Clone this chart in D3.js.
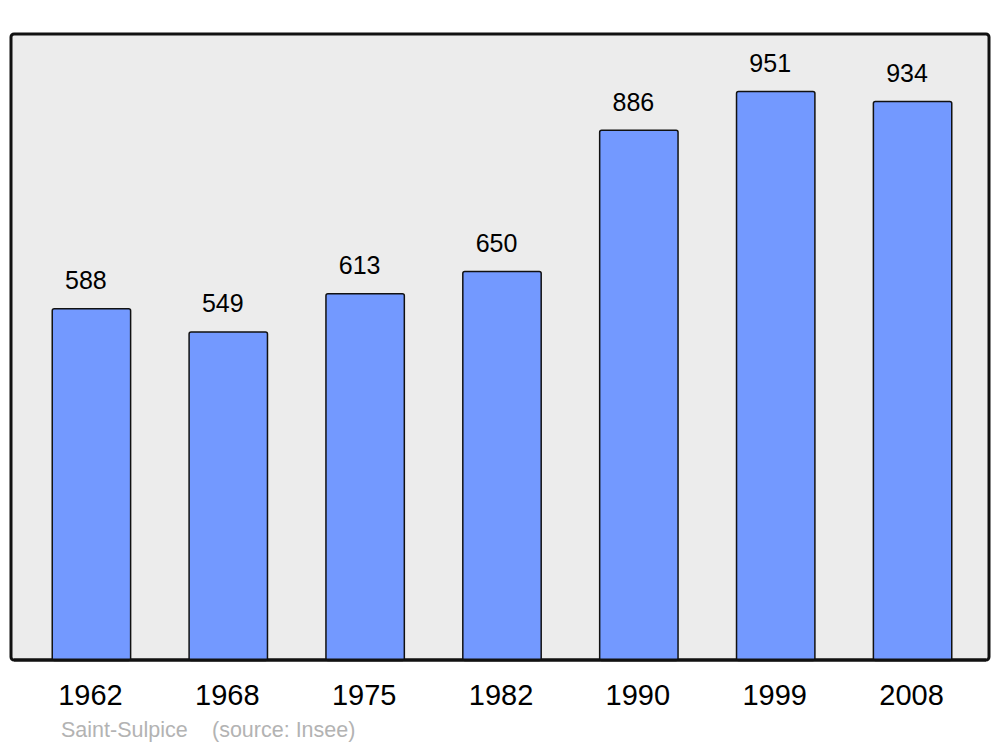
<!DOCTYPE html>
<html><head><meta charset="utf-8">
<script src="https://cdn.jsdelivr.net/npm/d3@7"></script>
<style>html,body{margin:0;padding:0;background:#fff;}</style>
</head><body>
<script>
const years = ["1962","1968","1975","1982","1990","1999","2008"];
const population = [588,549,613,650,886,951,934];
const footerLabels = ["Saint-Sulpice", "(source: Insee)"];

const W = 1000, H = 747;
const svg = d3.select("body").append("svg").attr("width", W).attr("height", H);

const frame = {x0: 11, y0: 34, x1: 989, y1: 660};
const x = d3.scaleBand().domain(years).range([23, 981]).paddingInner(0.42).paddingOuter(0.21);
const y = d3.scaleLinear().domain([0, d3.max(population) * 1.1]).range([frame.y1, frame.y0]);

svg.append("rect").attr("x", frame.x0).attr("y", frame.y0)
  .attr("width", frame.x1 - frame.x0).attr("height", frame.y1 - frame.y0)
  .attr("rx", 3).attr("fill", "#ececec").attr("stroke", "#111").attr("stroke-width", 3);

const data = years.map((yr, i) => ({yr, v: population[i]}));

svg.selectAll("rect.bar").data(data).enter().append("rect").attr("class", "bar")
  .attr("x", d => x(d.yr) + 0.5).attr("y", d => y(d.v) + 0.5)
  .attr("width", x.bandwidth() - 1).attr("height", d => y(0) - y(d.v))
  .attr("rx", 2).attr("fill", "#7399ff").attr("stroke", "#111").attr("stroke-width", 1.5);

// redraw bottom frame line on top of bars
svg.append("line").attr("x1", frame.x0 + 3).attr("x2", frame.x1 - 3).attr("y1", frame.y1).attr("y2", frame.y1)
  .attr("stroke", "#111").attr("stroke-width", 3);

svg.selectAll("text.val").data(data).enter().append("text").attr("class", "val")
  .attr("x", d => x(d.yr) + x.bandwidth() / 2 - 5.5).attr("y", d => y(d.v) - 19)
  .attr("text-anchor", "middle").attr("font-family", "Liberation Sans, Arial, sans-serif")
  .attr("font-size", 25).attr("fill", "#000").text(d => d.v);

const xAxis = d3.axisBottom(x).tickSize(0).tickPadding(0);
const gx = svg.append("g").attr("transform", `translate(-1,${frame.y1})`).call(xAxis);
gx.select(".domain").remove();
gx.selectAll("text").attr("font-family", "Liberation Sans, Arial, sans-serif")
  .attr("font-size", 29).attr("fill", "#000").attr("dy", null).attr("y", 45);

svg.append("text").attr("x", 61).attr("y", 737)
  .attr("font-family", "Liberation Sans, Arial, sans-serif").attr("font-size", 21.5).attr("fill", "#b3b3b3")
  .text(footerLabels[0]);
svg.append("text").attr("x", 212).attr("y", 737)
  .attr("font-family", "Liberation Sans, Arial, sans-serif").attr("font-size", 21.5).attr("fill", "#b3b3b3")
  .text(footerLabels[1]);
</script>
</body></html>
